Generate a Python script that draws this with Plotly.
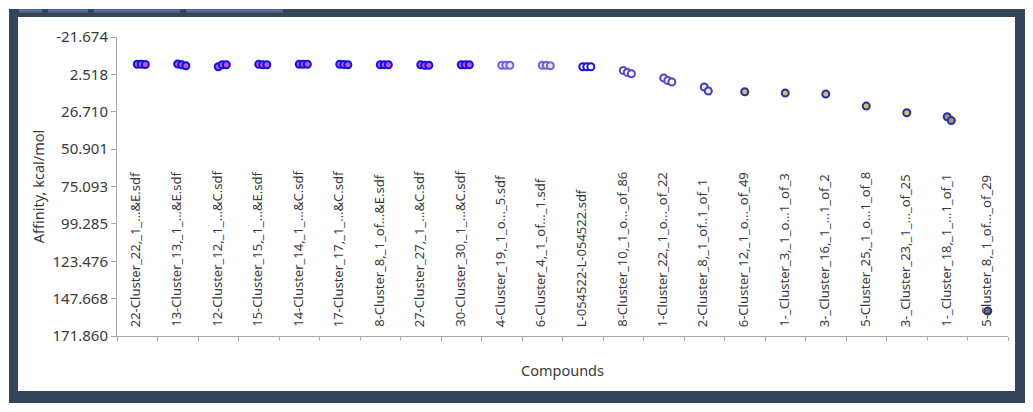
import plotly.graph_objects as go

# ---------------- data ----------------
compounds = [
    "22-Cluster_22,_1_...&E.sdf",
    "13-Cluster_13,_1_...&E.sdf",
    "12-Cluster_12,_1_...&C.sdf",
    "15-Cluster_15,_1_...&E.sdf",
    "14-Cluster_14,_1_...&C.sdf",
    "17-Cluster_17,_1_...&C.sdf",
    "8-Cluster_8,_1_of...&E.sdf",
    "27-Cluster_27,_1_...&C.sdf",
    "30-Cluster_30,_1_...&C.sdf",
    "4-Cluster_19,_1_o..._5.sdf",
    "6-Cluster_4,_1_of..._1.sdf",
    "L-054522-L-054522.sdf",
    "8-Cluster_10,_1_o..._of_86",
    "1-Cluster_22,_1_o..._of_22",
    "2-Cluster_8,_1_of..1_of_1",
    "6-Cluster_12,_1_o..._of_49",
    "1-_Cluster_3,_1_o...1_of_3",
    "3-_Cluster_16,_1_...1_of_2",
    "5-Cluster_25,_1_o...1_of_8",
    "3-_Cluster_23,_1_..._of_25",
    "1-_Cluster_18,_1_...1_of_1",
    "5-Cluster_8,_1_of..._of_29",
]

# affinity of each pose (kcal/mol), per compound
affinity = [
    [-4.05, -4.05, -3.86],
    [-4.18, -3.73, -3.08],
    [-2.43, -3.73, -3.73],
    [-4.05, -3.73, -3.73],
    [-4.05, -4.05, -4.05],
    [-4.05, -3.90, -3.73],
    [-3.73, -3.73, -3.73],
    [-3.73, -3.40, -3.40],
    [-3.73, -3.73, -3.73],
    [-3.40, -3.40, -3.40],
    [-3.40, -3.40, -3.08],
    [-2.43, -2.43, -2.43],
    [-0.03, 1.26, 2.10],
    [4.89, 6.45, 7.48],
    [10.72, 13.31],
    [13.77],
    [14.61],
    [15.26],
    [23.03],
    [27.37],
    [29.96, 32.36],
    [155.66],
]

y_tick_labels = ["-21.674", "2.518", "26.710", "50.901", "75.093",
                 "99.285", "123.476", "147.668", "171.860"]

# ---------------- styles ----------------
fill_colors = (["#c058c0"] * 9 + ["#e6e0f6"] * 2 + ["#ffffff"] + ["#ffffff"] * 2
               + ["#eef0cc"] + ["#c0c86c"] * 5 + ["#9aa258"] + ["#7c7e3c"])
line_colors = (["#1010ea"] * 9 + ["#6c66d8"] * 2 + ["#1616e6"] + ["#4c48c8"] * 2
               + ["#4040b4"] + ["#2c2ca4"] * 5 + ["#2c2ca4"] + ["#2c2ca4"])

POSE_STEP = 0.1
FONT = "Noto Sans"
TXT = "#3a3a3a"
AXC = "#a8a8a8"
BODY = 8                      # default page margin around the figure
W, H = 1033 - 2 * BODY, 412 - 2 * BODY
ML, MT = 117 - BODY, 37 - BODY
MR = W - (1008 - BODY)
MB = H - (336 - BODY)
PW, PH = W - ML - MR, H - MT - MB


def px(xp):
    return (xp - BODY - ML) / PW


def py(yp):
    return (MT + PH - (yp - BODY)) / PH


xs, ys, fc, lc = [], [], [], []
for i, vals in enumerate(affinity):
    for k, v in enumerate(vals):
        xs.append(i + k * POSE_STEP)
        ys.append(v)
        fc.append(fill_colors[i])
        lc.append(line_colors[i])

fig = go.Figure()
fig.add_trace(go.Scatter(
    x=xs, y=ys, mode="markers",
    marker=dict(size=7, color=fc, line=dict(color=lc, width=2)),
    showlegend=False, hoverinfo="y",
))

frame = "#34455c"
tab = "#4e6d98"
shapes = [
    dict(type="rect", xref="paper", yref="paper", layer="below",
         x0=px(9), x1=px(1025), y0=py(403), y1=py(9),
         fillcolor=frame, line=dict(width=0)),
    dict(type="rect", xref="paper", yref="paper", layer="below",
         x0=px(18), x1=px(1015), y0=py(391), y1=py(17),
         fillcolor="white", line=dict(width=0)),
]
for a, b in [(19, 42), (48, 88), (94, 180), (186, 283)]:
    shapes.append(dict(type="rect", xref="paper", yref="paper", layer="below",
                       x0=px(a), x1=px(b), y0=py(12.5), y1=py(9),
                       fillcolor=tab, line=dict(width=0)))

# compound names, written upward from just above the x axis
annotations = [
    dict(x=i, xref="x", y=0, yref="paper", text=name, showarrow=False,
         textangle=-90, xanchor="center", yanchor="bottom", yshift=7,
         xshift=-2, font=dict(family=FONT, size=13, color=TXT))
    for i, name in enumerate(compounds)
]

fig.update_layout(
    width=W, height=H,
    margin=dict(l=ML, r=MR, t=MT, b=MB, autoexpand=False),
    paper_bgcolor="white", plot_bgcolor="rgba(0,0,0,0)",
    font=dict(family=FONT, color=TXT, size=14),
    shapes=shapes,
    annotations=annotations,
    xaxis=dict(
        range=[-0.5, len(compounds) - 0.5],
        showticklabels=False, ticks="",
        showgrid=False, zeroline=False,
        showline=True, linecolor=AXC, linewidth=1,
        minor=dict(tick0=-0.5, dtick=1, ticks="outside", ticklen=4,
                   tickcolor=AXC, showgrid=False),
        title=dict(text="Compounds", standoff=29,
                   font=dict(family=FONT, size=14.5, color=TXT)),
        automargin=False,
    ),
    yaxis=dict(
        range=[float(y_tick_labels[-1]), float(y_tick_labels[0])],
        tickmode="array", tickvals=[float(t) for t in y_tick_labels],
        ticktext=y_tick_labels,
        ticks="outside", ticklen=5, tickcolor=AXC,
        tickfont=dict(family=FONT, size=15, color=TXT),
        showgrid=False, zeroline=False,
        showline=True, linecolor=AXC, linewidth=1,
        title=dict(text="Affinity, kcal/mol", standoff=4,
                   font=dict(family=FONT, size=14.5, color=TXT)),
        automargin=False,
    ),
)

fig.write_html("out.html")
